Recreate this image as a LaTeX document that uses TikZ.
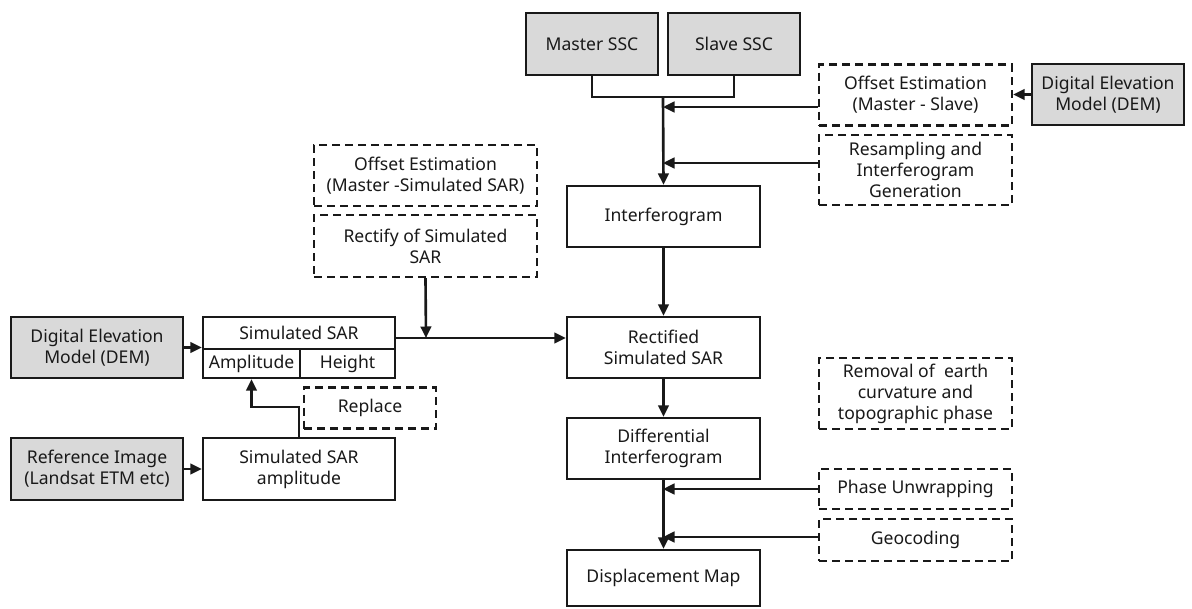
\documentclass[tikz,border=0pt]{standalone}
\usepackage{fontspec}
\setmainfont{Noto Sans}
\usetikzlibrary{arrows.meta,positioning,calc}
\definecolor{ink}{RGB}{25,25,25}
\definecolor{shade}{RGB}{217,217,217}
\tikzset{
  >={Triangle[length=2.3mm,width=2.1mm]},
  box/.style={draw=ink,fill=#1,line width=1.3pt,text=ink,minimum width=38.6mm,
    minimum height=12.2mm,align=center,inner sep=1pt,font=\fontsize{10}{12}\selectfont},
  box/.default=white,
  data/.style={box=shade},
  task/.style={box,dash pattern=on 1.6mm off 1mm},
  flow/.style={->,line width=1.5pt,draw=ink},
  link/.style={line width=1.5pt,draw=ink},
}
\begin{document}
\begin{tikzpicture}[x=0.2mm,y=-0.2mm]
  \useasboundingbox (0,0) rectangle (1192,608);
  % main chain
  \node[data,minimum width=26.4mm,minimum height=12.4mm] (master) at (592,44) {Master SSC};
  \node[data,minimum width=26.4mm,minimum height=12.4mm] (slave) at (734,44) {Slave SSC};
  \node[box] (ifg) at (663.5,216.5) {Interferogram};
  \node[box] (rect) at (663.5,347.5) {Rectified\\Simulated SAR};
  \node[box] (diff) at (663.5,448.5) {Differential\\Interferogram};
  \node[box,minimum height=11.2mm] (disp) at (663.5,578) {Displacement Map};
  % right side steps
  \node[task] (ofsms) at (915.5,95) {Offset Estimation\\(Master - Slave)};
  \node[data,minimum width=30.4mm] (demr) at (1108,94.5) {Digital Elevation\\Model (DEM)};
  \node[task,minimum height=14mm] (resamp) at (915.5,170) {Resampling and\\Interferogram\\Generation};
  \node[task,minimum height=14.2mm] (removal) at (915.5,393.5) {Removal of~ earth\\curvature and\\topographic phase};
  \node[task,minimum height=8mm] (unwrap) at (915.5,489) {Phase Unwrapping};
  \node[task,minimum height=8.4mm] (geo) at (915.5,540) {Geocoding};
  % left side
  \node[task,minimum width=44.6mm] (ofssim) at (425.5,175.5) {Offset Estimation\\(Master -Simulated SAR)};
  \node[task,minimum width=44.6mm,minimum height=12.4mm] (rectify) at (425.5,246) {Rectify of Simulated\\SAR};
  \node[data,minimum width=34.4mm] (deml) at (97,347.5) {Digital Elevation\\Model (DEM)};
  \node[box,minimum width=38.4mm,minimum height=6.4mm] (simtop) at (299,333) {Simulated SAR};
  \node[box,minimum width=19.4mm,minimum height=5.8mm] (amp) at (251.5,363.5) {Amplitude};
  \node[box,minimum width=19mm,minimum height=5.8mm] (hgt) at (347.5,363.5) {Height};
  \node[task,minimum width=26.4mm,minimum height=8.2mm] (replace) at (370,408) {Replace};
  \node[data,minimum width=34.4mm,minimum height=12.4mm] (refimg) at (97,469) {Reference Image\\(Landsat ETM etc)};
  \node[box,minimum width=38.4mm,minimum height=12.4mm] (simamp) at (299,469) {Simulated SAR\\amplitude};
  % trunk points
  \coordinate (join) at (663,97);
  \coordinate (t1) at (663,107);
  \coordinate (t2) at (663,163);
  \coordinate (t3) at (663,489);
  \coordinate (t4) at (663,537);
  \coordinate (mj) at (426,338);
  % connectors
  \draw[link] (master.south) |- (join) -| (slave.south);
  \draw[flow] (join) -- (ifg.north);
  \draw[flow] (ofsms.west |- t1) -- (t1);
  \draw[flow] (resamp.west |- t2) -- (t2);
  \draw[flow] (demr.west) -- (demr.west -| ofsms.east);
  \draw[flow] (ifg) -- (rect);
  \draw[flow] (simtop.east |- mj) -- (rect.west |- mj);
  \draw[flow] (rectify.south) -- (mj);
  \draw[flow] (deml.east) -- (deml.east -| simtop.west);
  \draw[flow] (refimg) -- (simamp);
  \draw[flow] (simamp.north) -- ++(0,-30) -| (amp.south);
  \draw[flow] (rect) -- (diff);
  \draw[flow] (diff) -- (disp);
  \draw[flow] (unwrap.west |- t3) -- (t3);
  \draw[flow] (geo.west |- t4) -- (t4);
\end{tikzpicture}
\end{document}
